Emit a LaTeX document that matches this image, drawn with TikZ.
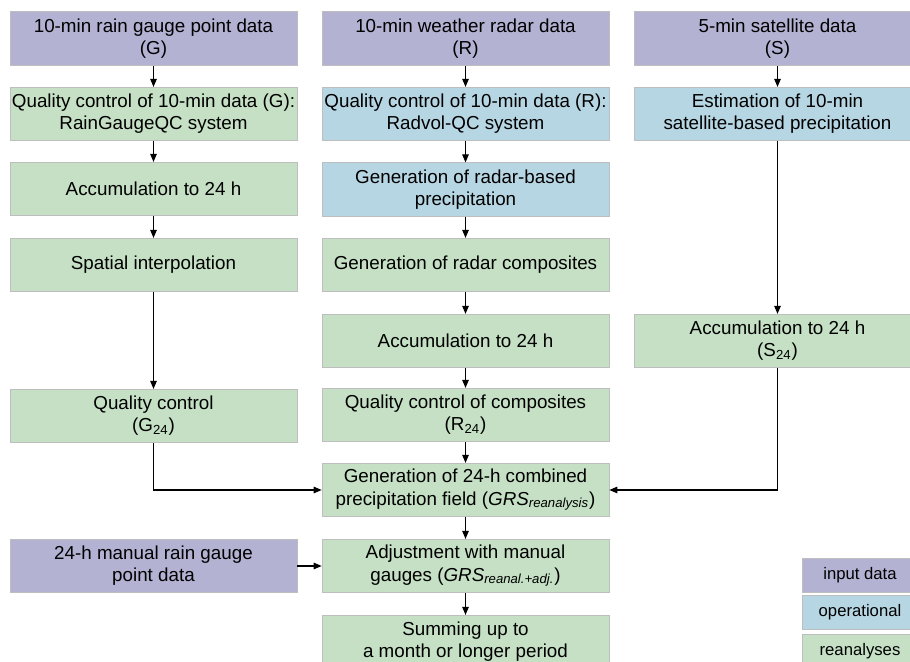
\documentclass[tikz,border=0pt]{standalone}
\usepackage{fontspec}
\setmainfont{Liberation Sans}
\usetikzlibrary{arrows.meta}
\definecolor{inputcol}{RGB}{179,178,211}
\definecolor{opercol}{RGB}{183,214,227}
\definecolor{reancol}{RGB}{197,224,196}
\definecolor{edgecol}{RGB}{190,190,190}
\begin{document}
\begin{tikzpicture}
[x=0.02cm,y=-0.02cm,
 boxdecorate/.style={shape=rectangle,draw=edgecol,line width=0.4pt,minimum width=5.74cm,minimum height=1.07cm,inner sep=1pt,align=center,font=\fontsize{10.7}{12.6}\selectfont},
 inputdecorate/.style={boxdecorate,fill=inputcol},
 operdecorate/.style={boxdecorate,fill=opercol},
 reandecorate/.style={boxdecorate,fill=reancol},
 legenddecorate/.style={shape=rectangle,draw=edgecol,line width=0.4pt,minimum width=2.32cm,minimum height=0.68cm,inner sep=1pt,font=\fontsize{9.5}{11}\selectfont},
 arrowdecorate/.style={-{Triangle[length=0.16cm,width=0.13cm]},line width=0.6pt},
 linedecorate/.style={line width=0.6pt}]
\useasboundingbox (0,0) rectangle (910,662);
\clip (0,0) rectangle (910,662);
% gauge column
\node (g1) at (153.5,38.5) [inputdecorate] {10-min rain gauge point data\\(G)};
\node (g2) at (153.5,114) [reandecorate] {Quality control of 10-min data (G):\\RainGaugeQC system};
\node (g3) at (153.5,189) [reandecorate] {Accumulation to 24 h};
\node (g4) at (153.5,265) [reandecorate] {Spatial interpolation};
\node (g5) at (153.5,416) [reandecorate] {Quality control\\(G\textsubscript{24})};
\node (m1) at (153.5,566) [inputdecorate] {24-h manual rain gauge\\point data};
% radar column
\node (r1) at (465.5,38.5) [inputdecorate] {10-min weather radar data\\(R)};
\node (r2) at (465.5,114) [operdecorate] {Quality control of 10-min data (R):\\Radvol-QC system};
\node (r3) at (465.5,189.5) [operdecorate] {Generation of radar-based\\precipitation};
\node (r4) at (465.5,265) [reandecorate] {Generation of radar composites};
\node (r5) at (465.5,341) [reandecorate] {Accumulation to 24 h};
\node (r6) at (465.5,415) [reandecorate] {Quality control of composites\\(R\textsubscript{24})};
\node (c1) at (465.5,490) [reandecorate] {Generation of 24-h combined\\precipitation field (\textit{GRS\textsubscript{reanalysis}})};
\node (c2) at (465.5,566) [reandecorate] {Adjustment with manual\\gauges (\textit{GRS\textsubscript{reanal.+adj.}})};
\node (c3) at (465.5,642) [reandecorate] {Summing up to\\a month or longer period};
% satellite column
\node (s1) at (777.5,38.5) [inputdecorate] {5-min satellite data\\(S)};
\node (s2) at (777.5,114) [operdecorate] {Estimation of 10-min\\satellite-based precipitation};
\node (s3) at (777.5,341) [reandecorate] {Accumulation to 24 h\\(S\textsubscript{24})};
% legend
\node (l1) at (860,575) [legenddecorate,fill=inputcol] {input data};
\node (l2) at (860,612.5) [legenddecorate,fill=opercol] {operational};
\node (l3) at (860,651) [legenddecorate,fill=reancol] {reanalyses};
% edges
\path
(g1) edge[arrowdecorate] (g2)
(g2) edge[arrowdecorate] (g3)
(g3) edge[arrowdecorate] (g4)
(g4) edge[arrowdecorate] (g5)
(r1) edge[arrowdecorate] (r2)
(r2) edge[arrowdecorate] (r3)
(r3) edge[arrowdecorate] (r4)
(r4) edge[arrowdecorate] (r5)
(r5) edge[arrowdecorate] (r6)
(r6) edge[arrowdecorate] (c1)
(c1) edge[arrowdecorate] (c2)
(c2) edge[arrowdecorate] (c3)
(s1) edge[arrowdecorate] (s2)
(s2) edge[arrowdecorate] (s3)
(m1) edge[arrowdecorate] (c2);
\draw[arrowdecorate] (g5.south) |- (c1.west);
\draw[arrowdecorate] (s3.south) |- (c1.east);
\end{tikzpicture}
\end{document}
